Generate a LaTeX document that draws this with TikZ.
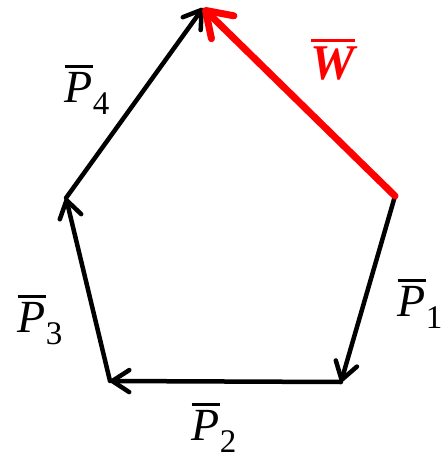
\documentclass[tikz,border=0pt]{standalone}
\usepackage{fontspec}
\setmainfont{Liberation Serif}
\usetikzlibrary{arrows.meta}
\newcommand\ovlbox[1]{\leavevmode\vbox{\hrule height 2.8pt\kern 5pt\hbox{#1}}}
\newcommand\vlab[2]{\ovlbox{\itshape #1\/}\raisebox{-12pt}{\fontsize{33}{33}\selectfont #2}}
\begin{document}
\begin{tikzpicture}[x=1pt,y=-1pt,
  vec/.style={line width=4.5pt, line cap=round, line join=round, -{Straight Barb[length=17pt,width=22pt,line cap=round,line join=round]}},
  rvec/.style={red, line width=7pt, line cap=round, line join=round, -{Straight Barb[length=24pt,width=32pt,line cap=round,line join=round]}},
  lbl/.style={font=\fontsize{46}{54}\selectfont, inner sep=0pt}]
\useasboundingbox (0,0) rectangle (444,464);
\coordinate (A) at (395,196);
\coordinate (B) at (341,382);
\coordinate (C) at (110,381);
\coordinate (D) at (66,198);
\coordinate (E) at (203,8);
\draw[vec] (A) -- (B);
\draw[vec] (B) -- (C);
\draw[vec] (C) -- (D);
\draw[vec] (D) -- (E);
\draw[rvec] (A) -- (E);
\node[lbl] (p4) at (87,90) {\vlab{P}{4}};
\node[lbl] (p3) at (40,320) {\vlab{P}{3}};
\node[lbl] (p2) at (214,428) {\vlab{P}{2}};
\node[lbl] (p1) at (420,304) {\vlab{P}{1}};
\node[lbl, red, font=\fontsize{50}{58}\selectfont] (w) at (333,60) {\ovlbox{\bfseries\itshape W}};
\end{tikzpicture}
\end{document}
